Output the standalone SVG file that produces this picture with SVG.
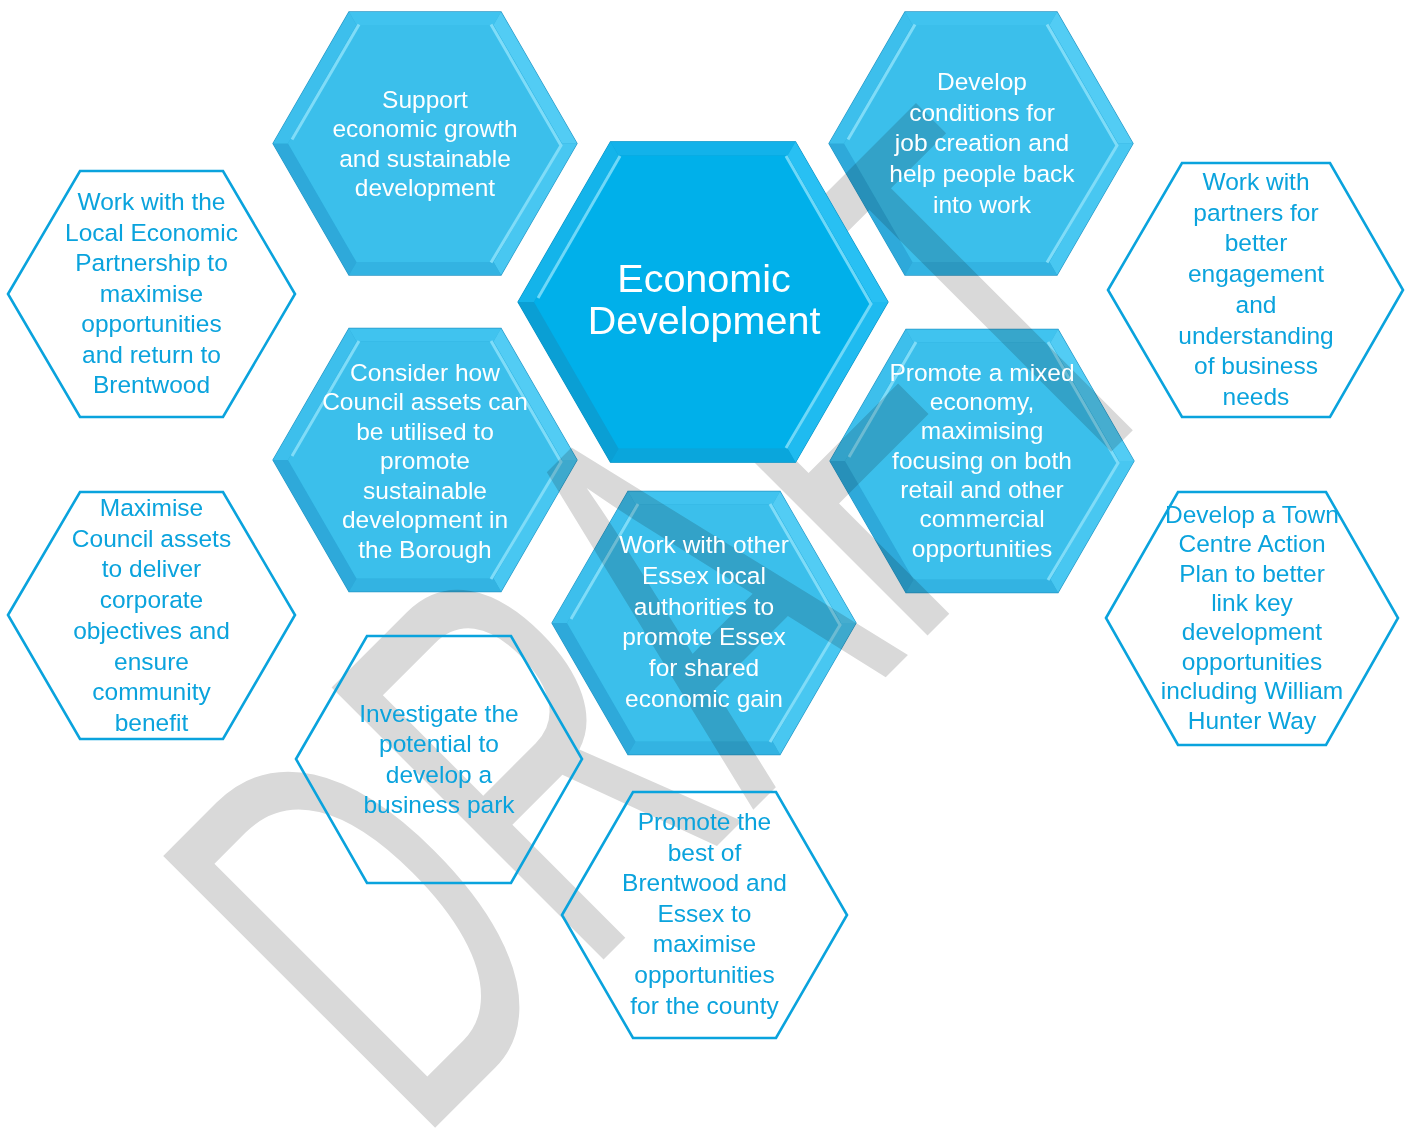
<svg xmlns="http://www.w3.org/2000/svg" xmlns:xlink="http://www.w3.org/1999/xlink" width="1413" height="1137" viewBox="0 0 1413 1137">
<style>
.wm{fill:#d9d9d9;font-family:"Liberation Sans",Arial,sans-serif;font-size:559px}
.shape{mix-blend-mode:multiply}
.ol{fill:none;stroke:#0aa3dd;stroke-width:2.6;stroke-linejoin:miter}
.wt{fill:#ffffff;font-family:"Liberation Sans",Arial,sans-serif;font-size:24.5px;text-anchor:middle}
.bt{fill:#0aa3dd;font-family:"Liberation Sans",Arial,sans-serif;font-size:24.5px;text-anchor:middle}
.big{font-size:39.5px}
</style>
<defs>
<g id="bev">
<polygon points="-152,0 -76,-131.6 76,-131.6 152,0 76,131.6 -76,131.6" fill="#2aaad9" stroke="#2697c6" stroke-width="1.2"/>
<polygon points="-76,-131.6 76,-131.6 68.5,-118.6 -68.5,-118.6" fill="#40c3ef"/>
<polygon points="76,-131.6 152,0 137,0 68.5,-118.6" fill="#52ccf4"/>
<polygon points="152,0 76,131.6 68.5,118.6 137,0" fill="#48c7f1"/>
<polygon points="76,131.6 -76,131.6 -68.5,118.6 68.5,118.6" fill="#33b3e2"/>
<polygon points="-76,131.6 -152,0 -137,0 -68.5,118.6" fill="#2ea9da"/>
<polygon points="-152,0 -76,-131.6 -68.5,-118.6 -137,0" fill="#3dbfec"/>
<polygon points="-137,0 -68.5,-118.6 68.5,-118.6 137,0 68.5,118.6 -68.5,118.6" fill="#3bbfeb"/>
<polyline points="-133,-4 -66,-119" fill="none" stroke="#7fdcf8" stroke-width="3"/>
<polyline points="66,-119 136,2 66,119" fill="none" stroke="#7fdcf8" stroke-width="3"/>
</g>
</defs>

<g id="watermark">
<text class="wm" transform="translate(416,1147) rotate(-45) scale(0.59,1)" x="0" y="0">DRAFT</text>
</g>

<g id="connectors"></g>

<g id="n-center">
<g transform="translate(703,302)">
<polygon points="-185,0 -92.5,-160.2 92.5,-160.2 185,0 92.5,160.2 -92.5,160.2" fill="#0b9fd4" stroke="#0891c4" stroke-width="1.2"/>
<polygon points="-92.5,-160.2 92.5,-160.2 84.5,-146.4 -84.5,-146.4" fill="#12b2ea"/>
<polygon points="92.5,-160.2 185,0 169,0 84.5,-146.4" fill="#28c0f3"/>
<polygon points="185,0 92.5,160.2 84.5,146.4 169,0" fill="#1fbbf0"/>
<polygon points="92.5,160.2 -92.5,160.2 -84.5,146.4 84.5,146.4" fill="#0aa6dc"/>
<polygon points="-92.5,160.2 -185,0 -169,0 -84.5,146.4" fill="#0a9fd4"/>
<polygon points="-185,0 -92.5,-160.2 -84.5,-146.4 -169,0" fill="#14b4ea"/>
<polygon points="-169,0 -84.5,-146.4 84.5,-146.4 169,0 84.5,146.4 -84.5,146.4" fill="#00b0ea"/>
<polyline points="-165,-4 -83,-146" fill="none" stroke="#6fd8f8" stroke-width="3"/>
<polyline points="83,-146 168,2 83,146" fill="none" stroke="#6fd8f8" stroke-width="3"/>
</g>
<text class="wt big" x="704" y="292">Economic</text>
<text class="wt big" x="704" y="334">Development</text>
</g>

<g id="n-support">
<g class="shape"><use xlink:href="#bev" transform="translate(425,143.5)"/></g>
<text class="wt" x="425" y="108">Support</text>
<text class="wt" x="425" y="137.3">economic growth</text>
<text class="wt" x="425" y="166.6">and sustainable</text>
<text class="wt" x="425" y="195.9">development</text>
</g>

<g id="n-jobs">
<g class="shape"><use xlink:href="#bev" transform="translate(981,143.5)"/></g>
<text class="wt" x="982" y="90">Develop</text>
<text class="wt" x="982" y="120.7">conditions for</text>
<text class="wt" x="982" y="151.4">job creation and</text>
<text class="wt" x="982" y="182.1">help people back</text>
<text class="wt" x="982" y="212.8">into work</text>
</g>

<g id="n-assets">
<g class="shape"><use xlink:href="#bev" transform="translate(425,460)"/></g>
<text class="wt" x="425" y="380.5">Consider how</text>
<text class="wt" x="425" y="410">Council assets can</text>
<text class="wt" x="425" y="439.5">be utilised to</text>
<text class="wt" x="425" y="469">promote</text>
<text class="wt" x="425" y="498.5">sustainable</text>
<text class="wt" x="425" y="528">development in</text>
<text class="wt" x="425" y="557.5">the Borough</text>
</g>

<g id="n-mixed">
<g class="shape"><use xlink:href="#bev" transform="translate(982,461)"/></g>
<text class="wt" x="982" y="380.7">Promote a mixed</text>
<text class="wt" x="982" y="410">economy,</text>
<text class="wt" x="982" y="439.3">maximising</text>
<text class="wt" x="982" y="468.6">focusing on both</text>
<text class="wt" x="982" y="497.9">retail and other</text>
<text class="wt" x="982" y="527.2">commercial</text>
<text class="wt" x="982" y="556.5">opportunities</text>
</g>

<g id="n-essex">
<g class="shape"><use xlink:href="#bev" transform="translate(704,623)"/></g>
<text class="wt" x="704" y="553.3">Work with other</text>
<text class="wt" x="704" y="584">Essex local</text>
<text class="wt" x="704" y="614.7">authorities to</text>
<text class="wt" x="704" y="645.4">promote Essex</text>
<text class="wt" x="704" y="676.1">for shared</text>
<text class="wt" x="704" y="706.8">economic gain</text>
</g>

<g id="n-lep">
<polygon class="ol" points="8,294 80,171 223,171 295,294 223,417 80,417"/>
<text class="bt" x="151.5" y="210">Work with the</text>
<text class="bt" x="151.5" y="240.5">Local Economic</text>
<text class="bt" x="151.5" y="271">Partnership to</text>
<text class="bt" x="151.5" y="301.6">maximise</text>
<text class="bt" x="151.5" y="332.2">opportunities</text>
<text class="bt" x="151.5" y="362.8">and return to</text>
<text class="bt" x="151.5" y="393.3">Brentwood</text>
</g>

<g id="n-maximise">
<polygon class="ol" points="8,615 80,492 223,492 295,615 223,739 80,739"/>
<text class="bt" x="151.5" y="516">Maximise</text>
<text class="bt" x="151.5" y="546.7">Council assets</text>
<text class="bt" x="151.5" y="577.4">to deliver</text>
<text class="bt" x="151.5" y="608.1">corporate</text>
<text class="bt" x="151.5" y="638.8">objectives and</text>
<text class="bt" x="151.5" y="669.5">ensure</text>
<text class="bt" x="151.5" y="700.2">community</text>
<text class="bt" x="151.5" y="730.9">benefit</text>
</g>

<g id="n-park">
<polygon class="ol" points="296,759 367,636 511,636 582,759 511,883 367,883"/>
<text class="bt" x="439" y="721.7">Investigate the</text>
<text class="bt" x="439" y="752.2">potential to</text>
<text class="bt" x="439" y="782.7">develop a</text>
<text class="bt" x="439" y="813.2">business park</text>
</g>

<g id="n-promote">
<polygon class="ol" points="562,915 633,792 776,792 847,915 776,1038 633,1038"/>
<text class="bt" x="704.5" y="830">Promote the</text>
<text class="bt" x="704.5" y="860.6">best of</text>
<text class="bt" x="704.5" y="891.2">Brentwood and</text>
<text class="bt" x="704.5" y="921.8">Essex to</text>
<text class="bt" x="704.5" y="952.4">maximise</text>
<text class="bt" x="704.5" y="983">opportunities</text>
<text class="bt" x="704.5" y="1013.5">for the county</text>
</g>

<g id="n-partners">
<polygon class="ol" points="1108,290 1182,163 1330,163 1403,290 1330,417 1182,417"/>
<text class="bt" x="1256" y="190">Work with</text>
<text class="bt" x="1256" y="220.7">partners for</text>
<text class="bt" x="1256" y="251.4">better</text>
<text class="bt" x="1256" y="282.1">engagement</text>
<text class="bt" x="1256" y="312.8">and</text>
<text class="bt" x="1256" y="343.5">understanding</text>
<text class="bt" x="1256" y="374.2">of business</text>
<text class="bt" x="1256" y="404.9">needs</text>
</g>

<g id="n-town">
<polygon class="ol" points="1106,618 1178,492 1326,492 1398,618 1326,745 1178,745"/>
<text class="bt" x="1252" y="522.7">Develop a Town</text>
<text class="bt" x="1252" y="552.1">Centre Action</text>
<text class="bt" x="1252" y="581.5">Plan to better</text>
<text class="bt" x="1252" y="610.9">link key</text>
<text class="bt" x="1252" y="640.3">development</text>
<text class="bt" x="1252" y="669.7">opportunities</text>
<text class="bt" x="1252" y="699.1">including William</text>
<text class="bt" x="1252" y="728.5">Hunter Way</text>
</g>
</svg>
